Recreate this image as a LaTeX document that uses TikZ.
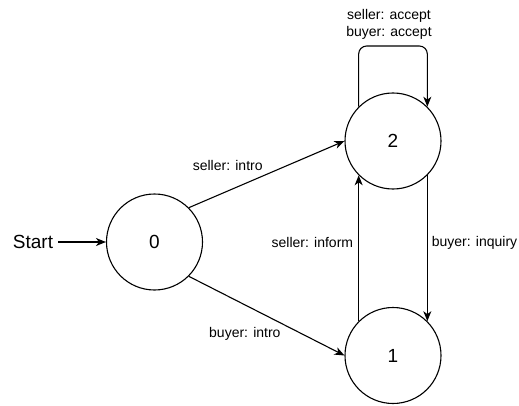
\documentclass[tikz,border=0pt]{standalone}
\usepackage{fontspec}
\setmainfont{Liberation Sans}
\usetikzlibrary{arrows.meta}
\tikzset{
  state/.style={circle,draw,line width=1.1pt,minimum size=96pt,inner sep=0pt,font=\fontsize{19}{22}\selectfont},
  trans/.style={line width=1.1pt,-{Stealth[length=10pt,width=8pt,inset=3pt]}},
  lbl/.style={inner sep=0pt,font=\fontsize{14}{17}\selectfont}
}
\begin{document}
\begin{tikzpicture}[x=1pt,y=1pt]
\useasboundingbox (0,0) rectangle (519,405);
\node[state] (n0) at (154.5,163) {0};
\node[state] (n2) at (393,264) {2};
\node[state] (n1) at (393,49.5) {1};
\node[font=\fontsize{19}{22}\selectfont,inner sep=0pt,inner xsep=5pt] (start) at (33,163) {Start};
\coordinate (looptop) at (393,359);
\draw[trans] (start) -- (n0);
\draw[trans] (n0.45) -- node[lbl,pos=.25,yshift=26pt]{seller: intro} (n2.west);
\draw[trans] (n0.-45) -- node[lbl,pos=.36,yshift=-29pt]{buyer: intro} (n1.west);
\draw[trans] (n1.135) -- node[lbl,pos=.54,left=5pt]{seller: inform} (n2.225);
\draw[trans] (n2.315) -- node[lbl,pos=.46,right=4pt]{buyer: inquiry} (n1.45);
\draw[trans,rounded corners=8pt] (n2.135) |- (looptop)
	node[lbl,above=6pt,xshift=-4pt,align=center]{seller: accept\\buyer: accept} -| (n2.45);
\end{tikzpicture}
\end{document}
